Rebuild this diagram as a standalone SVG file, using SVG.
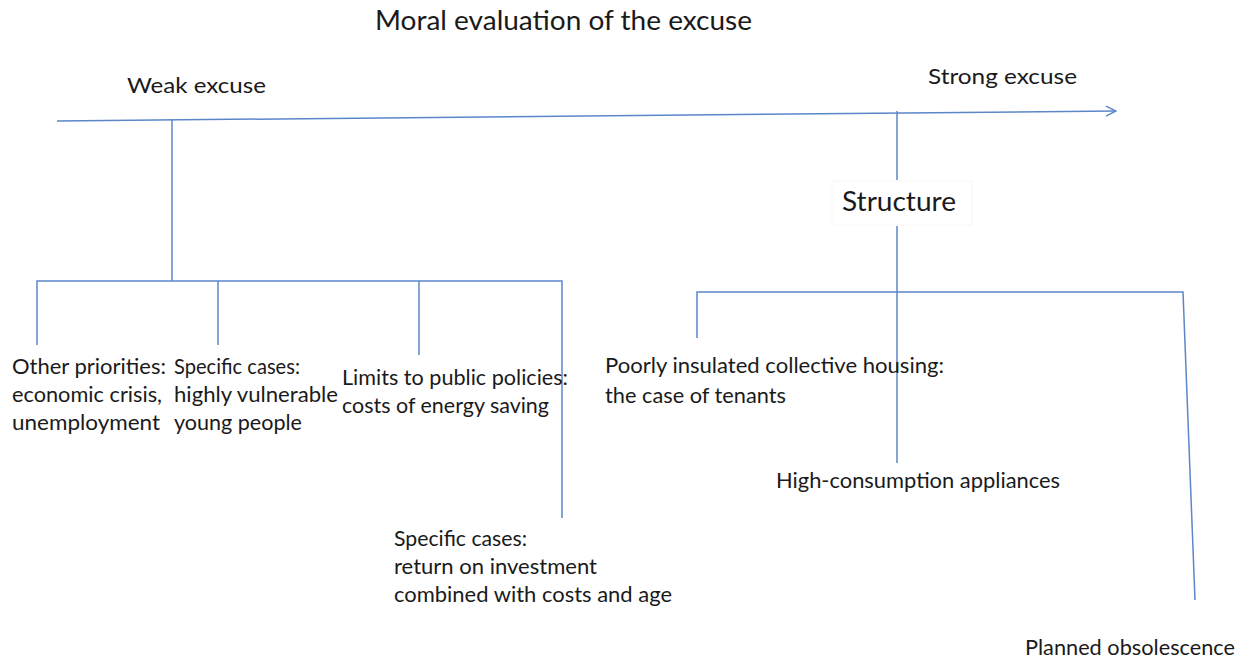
<svg xmlns="http://www.w3.org/2000/svg" width="1245" height="661" viewBox="0 0 1245 661">
<defs>
<style>
.t{font-family:Lato,"Open Sans","Liberation Sans",sans-serif;fill:#1a1a1a;}
.s20{font-size:21px;}
.s22{font-size:22px;}
.s26{font-size:27px;}
.c{fill:none;stroke:#5b87c9;stroke-width:1.5;}
</style>
<marker id="arr" viewBox="0 0 12 12" refX="11" refY="6" markerWidth="12" markerHeight="12" markerUnits="userSpaceOnUse" orient="auto">
<path d="M1,1 L11,6 L1,11" fill="none" stroke="#5b87c9" stroke-width="1.5"/>
</marker>
</defs>
<rect width="1245" height="661" fill="#ffffff"/>
<g id="connectors">
<path class="c" d="M57,121 L1116,111" marker-end="url(#arr)"/>
<path class="c" d="M172,120 V281"/>
<path class="c" d="M37,345 V281 H562 V518"/>
<path class="c" d="M218,281 V345"/>
<path class="c" d="M419,281 V355"/>
<path class="c" d="M897,111 V180"/>
<path class="c" d="M897,226 V463"/>
<path class="c" d="M697,338 V292 H1183 L1195,600"/>
</g>
<g id="title"><text class="t s26" x="375" y="30" textLength="377" lengthAdjust="spacingAndGlyphs">Moral evaluation of the excuse</text></g>
<g id="weak"><text class="t s22" x="127" y="93" textLength="139" lengthAdjust="spacingAndGlyphs">Weak excuse</text></g>
<g id="strong"><text class="t s22" x="928" y="84" textLength="149" lengthAdjust="spacingAndGlyphs">Strong excuse</text></g>
<g id="structure">
<rect x="832" y="181" width="140" height="44" fill="#ffffff" stroke="#f7f7f7" stroke-width="1"/>
<text class="t s26" x="842" y="211" textLength="114" lengthAdjust="spacingAndGlyphs">Structure</text>
</g>
<g id="other-priorities">
<text class="t s20" x="12" y="374" textLength="154" lengthAdjust="spacingAndGlyphs">Other priorities:</text>
<text class="t s20" x="12" y="402" textLength="150" lengthAdjust="spacingAndGlyphs">economic crisis,</text>
<text class="t s20" x="12" y="430" textLength="148" lengthAdjust="spacingAndGlyphs">unemployment</text>
</g>
<g id="specific-vulnerable">
<text class="t s20" x="174" y="374" textLength="126" lengthAdjust="spacingAndGlyphs">Specific cases:</text>
<text class="t s20" x="174" y="402" textLength="164" lengthAdjust="spacingAndGlyphs">highly vulnerable</text>
<text class="t s20" x="174" y="430" textLength="128" lengthAdjust="spacingAndGlyphs">young people</text>
</g>
<g id="limits">
<text class="t s20" x="342" y="385" textLength="226" lengthAdjust="spacingAndGlyphs">Limits to public policies:</text>
<text class="t s20" x="342" y="413" textLength="207" lengthAdjust="spacingAndGlyphs">costs of energy saving</text>
</g>
<g id="specific-return">
<text class="t s20" x="394" y="546" textLength="133" lengthAdjust="spacingAndGlyphs">Specific cases:</text>
<text class="t s20" x="394" y="574" textLength="203" lengthAdjust="spacingAndGlyphs">return on investment</text>
<text class="t s20" x="394" y="602" textLength="278" lengthAdjust="spacingAndGlyphs">combined with costs and age</text>
</g>
<g id="housing">
<text class="t s20" x="605" y="373" textLength="339" lengthAdjust="spacingAndGlyphs">Poorly insulated collective housing:</text>
<text class="t s20" x="605" y="403" textLength="181" lengthAdjust="spacingAndGlyphs">the case of tenants</text>
</g>
<g id="appliances"><text class="t s20" x="776" y="488" textLength="284" lengthAdjust="spacingAndGlyphs">High-consumption appliances</text></g>
<g id="obsolescence"><text class="t s20" x="1025" y="655" textLength="210" lengthAdjust="spacingAndGlyphs">Planned obsolescence</text></g>
</svg>
